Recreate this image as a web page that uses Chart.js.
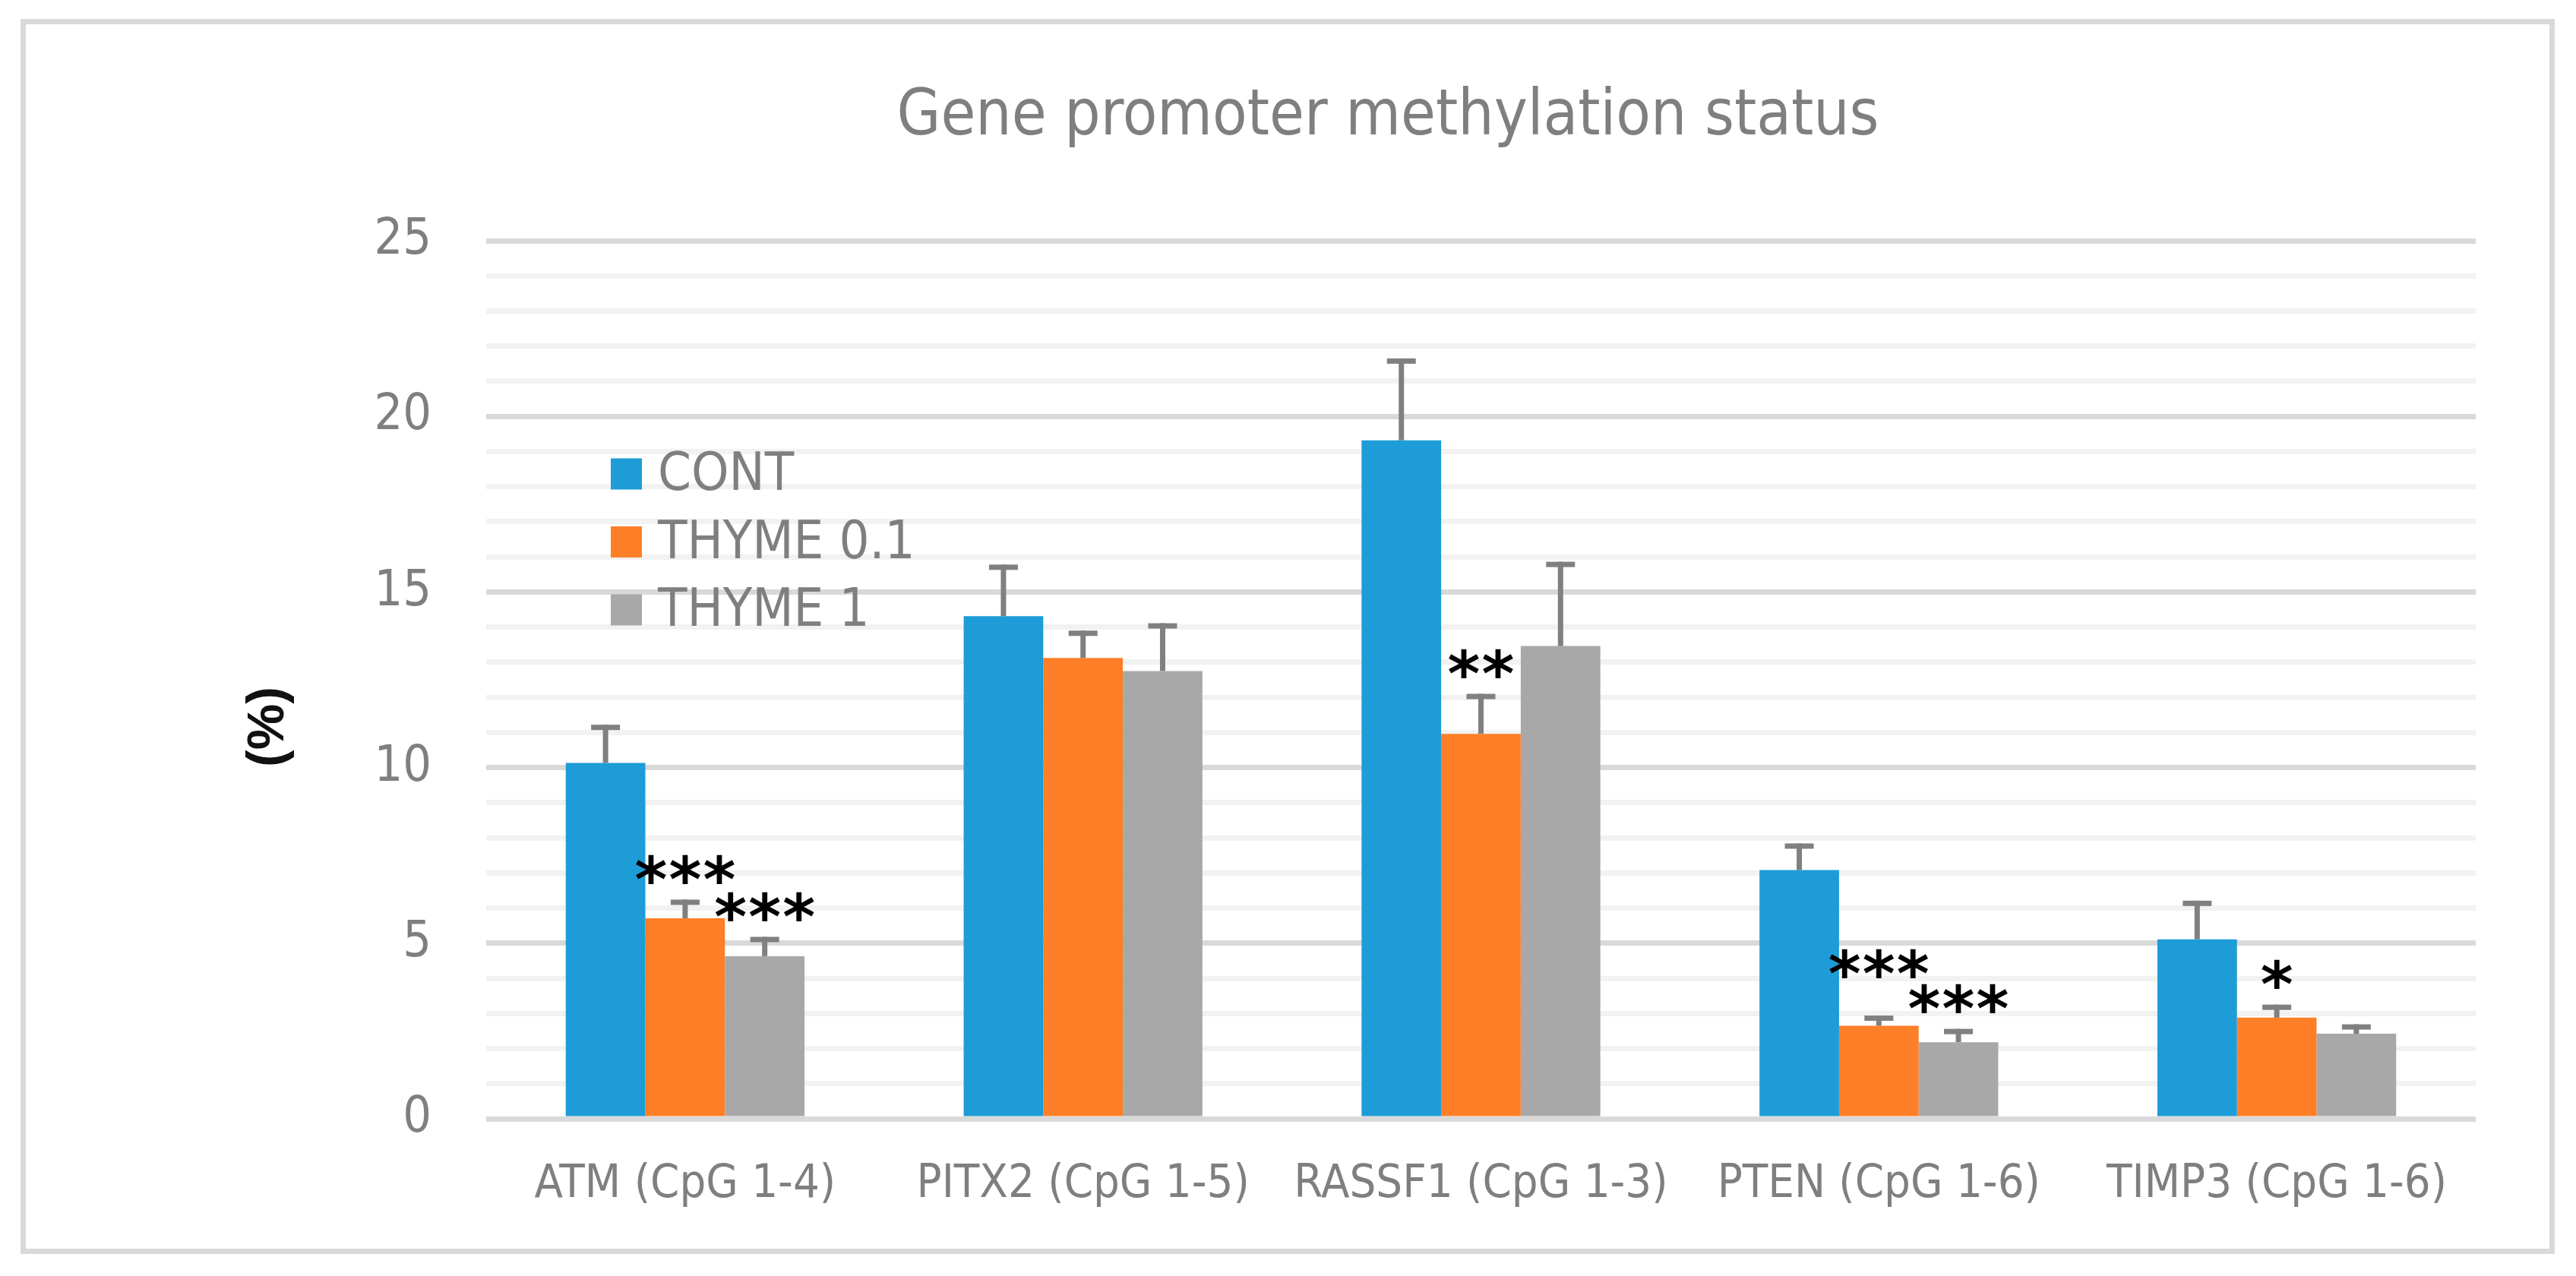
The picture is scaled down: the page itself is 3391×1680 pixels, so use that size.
<!DOCTYPE html>
<html>
<head>
<meta charset="utf-8">
<script src="https://cdn.jsdelivr.net/npm/chart.js@4/dist/chart.umd.min.js"></script>
<style>
  html, body { margin: 0; padding: 0; background: #ffffff; }
  #frame { position: absolute; left: 27px; top: 25px; width: 3336px; height: 1626px;
           border: 7px solid #d9d9d9; box-sizing: border-box; background: #ffffff; }
  canvas { display: block; }
</style>
</head>
<body>
<div id="frame"><canvas id="c" width="3322" height="1612"></canvas></div>
<script>
// ---- data ----
const categories = ['ATM (CpG 1-4)', 'PITX2 (CpG 1-5)', 'RASSF1 (CpG 1-3)', 'PTEN (CpG 1-6)', 'TIMP3 (CpG 1-6)'];
const seriesNames = ['CONT', 'THYME 0.1', 'THYME 1'];
const contValues = [10.13, 14.31, 19.32, 7.08, 5.11];
const thyme01Values = [5.71, 13.12, 10.96, 2.65, 2.88];
const thyme1Values = [4.63, 12.75, 13.46, 2.18, 2.42];
const contErr = [1.09, 1.47, 2.33, 0.76, 1.10];
const thyme01Err = [0.53, 0.78, 1.14, 0.29, 0.37];
const thyme1Err = [0.55, 1.36, 2.40, 0.38, 0.27];
const contStars = ['', '', '', '', ''];
const thyme01Stars = ['***', '', '**', '***', '*'];
const thyme1Stars = ['***', '', '', '***', ''];
const yMin = 0, yMax = 25, yStep = 1, yLabelStep = 5;
const chartTitle = 'Gene promoter methylation status';
const yAxisTitle = '(%)';

// ---- styles ----
const FONT = '"Liberation Sans Narrow", "DejaVu Sans Condensed", "Roboto Condensed", "Liberation Sans", sans-serif';
const colors = ['#1e9cd7', '#fe7f27', '#a8a8a8'];
const textGray = '#7f7f7f';

const errors = [contErr, thyme01Err, thyme1Err];
const stars = [contStars, thyme01Stars, thyme1Stars];
const values = [contValues, thyme01Values, thyme1Values];

const overlay = {
  id: 'overlay',
  afterDatasetsDraw(chart) {
    const ctx = chart.ctx;
    const y = chart.scales.y;
    ctx.save();
    const groups = []; // star groups per category
    chart.data.datasets.forEach((ds, i) => {
      const meta = chart.getDatasetMeta(i);
      meta.data.forEach((bar, j) => {
        const x = bar.x;
        const yTop = bar.y;
        const yErr = y.getPixelForValue(ds.data[j] + errors[i][j]);
        ctx.fillStyle = '#808080';
        ctx.fillRect(x - 3.5, yErr, 7, yTop - yErr);
        ctx.fillRect(x - 19, yErr, 38, 7);
        const s = stars[i][j];
        if (s) {
          groups[j] = groups[j] || [];
          groups[j].push({ x, cy: yErr - 40, s });
        }
      });
    });
    // avoid overlap between neighbouring star groups in the same category
    ctx.font = 'bold 82px "DejaVu Sans"';
    ctx.fillStyle = '#000000';
    ctx.textAlign = 'center';
    ctx.textBaseline = 'alphabetic';
    const m = ctx.measureText('*');
    const off = (m.actualBoundingBoxAscent - m.actualBoundingBoxDescent) / 2;
    groups.forEach(g => {
      if (!g) return;
      for (let k = g.length - 2; k >= 0; k--) {
        const a = g[k], b = g[k + 1];
        const halfA = a.s.length * 22.5, halfB = b.s.length * 22.5;
        if (a.x + halfA > b.x - halfB && Math.abs(a.cy - b.cy) < 46) {
          a.cy = Math.min(a.cy, b.cy - 46);
        }
      }
      g.forEach(st => {
        const n = st.s.length;
        for (let k = 0; k < n; k++) {
          ctx.fillText('*', st.x + (k - (n - 1) / 2) * 45, st.cy + off);
        }
      });
    });
    ctx.restore();
  },
  afterDraw(chart) {
    const ctx = chart.ctx;
    const ca = chart.chartArea;
    ctx.save();
    // title
    ctx.font = '83px ' + FONT;
    ctx.fillStyle = textGray;
    ctx.textAlign = 'center';
    ctx.textBaseline = 'middle';
    ctx.fillText(chartTitle, 1793, 123);
    // legend
    chart.data.datasets.forEach((ds, i) => {
      const cy = ca.top + 307 + i * 89.5;
      ctx.fillStyle = ds.backgroundColor;
      ctx.fillRect(ca.left + 164, cy - 20.5, 41, 41);
      ctx.font = '70px ' + FONT;
      ctx.fillStyle = textGray;
      ctx.textAlign = 'left';
      ctx.textBaseline = 'middle';
      ctx.fillText(ds.label, ca.left + 226, cy + 3);
    });
    // y axis title
    ctx.translate(320, (ca.top + ca.bottom) / 2 + 62);
    ctx.rotate(-Math.PI / 2);
    ctx.font = 'bold 68px "Liberation Sans", sans-serif';
    ctx.fillStyle = '#111111';
    ctx.textAlign = 'center';
    ctx.textBaseline = 'middle';
    ctx.fillText(yAxisTitle, 0, 0);
    ctx.restore();
  }
};

function build() {
  new Chart(document.getElementById('c'), {
    type: 'bar',
    data: {
      labels: categories,
      datasets: seriesNames.map((name, i) => ({
        label: name,
        data: values[i],
        backgroundColor: colors[i],
        borderWidth: 0,
        categoryPercentage: 0.6,
        barPercentage: 1.0
      }))
    },
    options: {
      responsive: false,
      animation: false,
      devicePixelRatio: 1,
      layout: { padding: { top: 285, right: 97, left: 0, bottom: 0 } },
      plugins: { legend: { display: false }, title: { display: false }, tooltip: { enabled: false } },
      scales: {
        x: {
          grid: { display: false, drawTicks: false },
          border: { display: false },
          ticks: { color: textGray, font: { family: FONT, size: 61 }, padding: 51, maxRotation: 0, autoSkip: false },
          afterFit(s) { s.height = 171; }
        },
        y: {
          min: yMin, max: yMax,
          grid: {
            color: c => (c.tick && c.tick.value % yLabelStep === 0) ? '#d9d9d9' : '#f2f2f2',
            lineWidth: 7, drawTicks: false
          },
          border: { display: false },
          ticks: {
            stepSize: yStep, autoSkip: false, padding: 72, color: textGray,
            font: { family: FONT, size: 66 },
            callback: v => (v % yLabelStep === 0 ? String(v) : '')
          },
          afterFit(s) { s.width = 606; }
        }
      }
    },
    plugins: [overlay]
  });
}

Promise.all([
  document.fonts.load('66px "Liberation Sans Narrow"'),
  document.fonts.load('bold 82px "DejaVu Sans"'),
  document.fonts.load('bold 68px "Liberation Sans"')
]).catch(() => {}).then(build);
</script>
</body>
</html>
